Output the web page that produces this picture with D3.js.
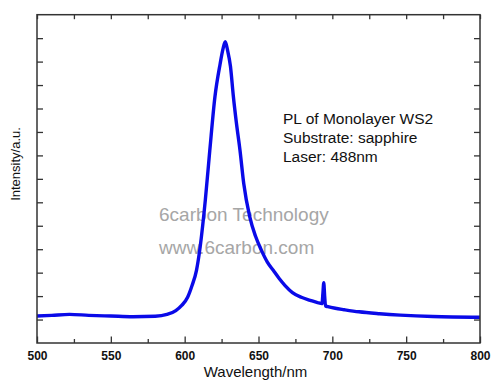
<!DOCTYPE html>
<html>
<head>
<meta charset="utf-8">
<script src="https://cdn.jsdelivr.net/npm/d3@7"></script>
<style>
  body { margin: 0; background: #fff; }
  svg { font-family: "Liberation Sans", Arial, sans-serif; }
</style>
</head>
<body>
<svg id="pl_chart" width="500" height="388"></svg>
<script>
// PL spectrum (wavelength nm, intensity a.u.)
const wavelength = [500, 510, 522, 535, 550, 565, 580, 588, 594, 598, 602, 605, 608, 610.5, 614, 617,
  620.5, 624, 626, 627.5, 629, 631, 633, 635, 637.5, 640, 644, 648, 652, 656, 660, 664, 668, 673,
  679, 685, 690, 693, 693.6, 694.2, 694.8, 695.4, 697, 702, 708, 718, 732, 746, 768, 800];
const intensity = [1.15, 1.18, 1.22, 1.18, 1.15, 1.12, 1.14, 1.22, 1.38, 1.6, 1.95, 2.45, 3.1, 4.1, 6.1, 8.2,
  10.5, 11.9, 12.55, 12.85, 12.5, 11.8, 10.5, 9.4, 8.2, 6.8, 5.4, 4.55, 3.95, 3.45, 3.1, 2.75, 2.45, 2.15,
  1.95, 1.82, 1.72, 1.68, 2.1, 2.57, 2.0, 1.58, 1.55, 1.48, 1.42, 1.33, 1.25, 1.19, 1.13, 1.1];

const xMajorTicks = [500, 550, 600, 650, 700, 750, 800];
const xMinorTicks = [525, 575, 625, 675, 725, 775];
const yTicks = [1, 2, 3, 4, 5, 6, 7, 8, 9, 10, 11, 12, 13];

const notes = ["PL of Monolayer WS2", "Substrate: sapphire", "Laser: 488nm"];
const watermark = ["6carbon Technology", "www.6carbon.com"];

const svg = d3.select('#pl_chart');
const margin = { top: 14.7, right: 20, bottom: 45, left: 37 };
const W = 500, H = 388;
const innerW = W - margin.left - margin.right;
const innerH = H - margin.top - margin.bottom;

const xScale = d3.scaleLinear().domain([500, 800]).range([0, innerW]);
const yScale = d3.scaleLinear().domain([0, 14]).range([innerH, 0]);

const g = svg.append('g')
  .attr('transform', `translate(${margin.left},${margin.top})`);

// watermark text (behind the curve)
g.selectAll('text.wm')
  .data(watermark)
  .enter()
  .append('text')
  .attr('class', 'wm')
  .attr('x', 122)
  .attr('y', (d, i) => 206.5 + i * 33.3)
  .style('font-size', '19px')
  .style('fill', '#a6a6a6')
  .text(d => d);

// spectrum
const line = d3.line()
  .x(d => xScale(d[0]))
  .y(d => yScale(d[1]))
  .curve(d3.curveMonotoneX);

g.append('path')
  .datum(d3.zip(wavelength, intensity))
  .style('fill', 'none')
  .style('stroke', '#0a0ae8')
  .style('stroke-width', 3.4)
  .style('stroke-linejoin', 'round')
  .attr('d', line);

// axes: ticks point inward, frame drawn separately
const tickStyle = sel => {
  sel.select('.domain').remove();
  sel.selectAll('line').attr('stroke', '#333').attr('stroke-width', 1.3);
};

g.append('g')
  .attr('transform', `translate(0,${innerH})`)
  .call(d3.axisBottom(xScale).tickValues(xMajorTicks).tickFormat(d3.format('d'))
    .tickSizeInner(-6.5).tickSizeOuter(0).tickPadding(8))
  .call(tickStyle)
  .call(a => a.selectAll('text')
    .style('font-family', '"Liberation Sans", Arial, sans-serif')
    .style('font-size', '12px').style('font-weight', 'bold').attr('fill', '#111'));

g.append('g')
  .attr('transform', `translate(0,${innerH})`)
  .call(d3.axisBottom(xScale).tickValues(xMinorTicks).tickFormat('').tickSizeInner(-4).tickSizeOuter(0))
  .call(tickStyle);

g.append('g')
  .call(d3.axisTop(xScale).tickValues(xMajorTicks.concat(xMinorTicks)).tickFormat('').tickSizeInner(-4.5).tickSizeOuter(0))
  .call(tickStyle);

g.append('g')
  .call(d3.axisLeft(yScale).tickValues(yTicks).tickFormat('').tickSizeInner(-6).tickSizeOuter(0))
  .call(tickStyle);

g.append('g')
  .attr('transform', `translate(${innerW},0)`)
  .call(d3.axisRight(yScale).tickValues(yTicks).tickFormat('').tickSizeInner(-6).tickSizeOuter(0))
  .call(tickStyle);

// frame
g.append('rect')
  .attr('width', innerW)
  .attr('height', innerH)
  .style('fill', 'none')
  .style('stroke', '#333')
  .style('stroke-width', 1.5);

// annotation
g.selectAll('text.note')
  .data(notes)
  .enter()
  .append('text')
  .attr('class', 'note')
  .attr('x', 246)
  .attr('y', (d, i) => 109.5 + i * 19)
  .style('font-size', '15.5px')
  .style('fill', '#111')
  .text(d => d);

// axis labels
g.append('text')
  .attr('x', xScale(648))
  .attr('y', innerH + 34)
  .style('text-anchor', 'middle')
  .style('font-size', '15px')
  .style('fill', '#111')
  .text('Wavelength/nm');

g.append('text')
  .attr('transform', `translate(${19.5 - margin.left},${164 - margin.top}) rotate(-90)`)
  .style('text-anchor', 'middle')
  .style('font-size', '13px')
  .style('fill', '#111')
  .text('Intensity/a.u.');
</script>
</body>
</html>
